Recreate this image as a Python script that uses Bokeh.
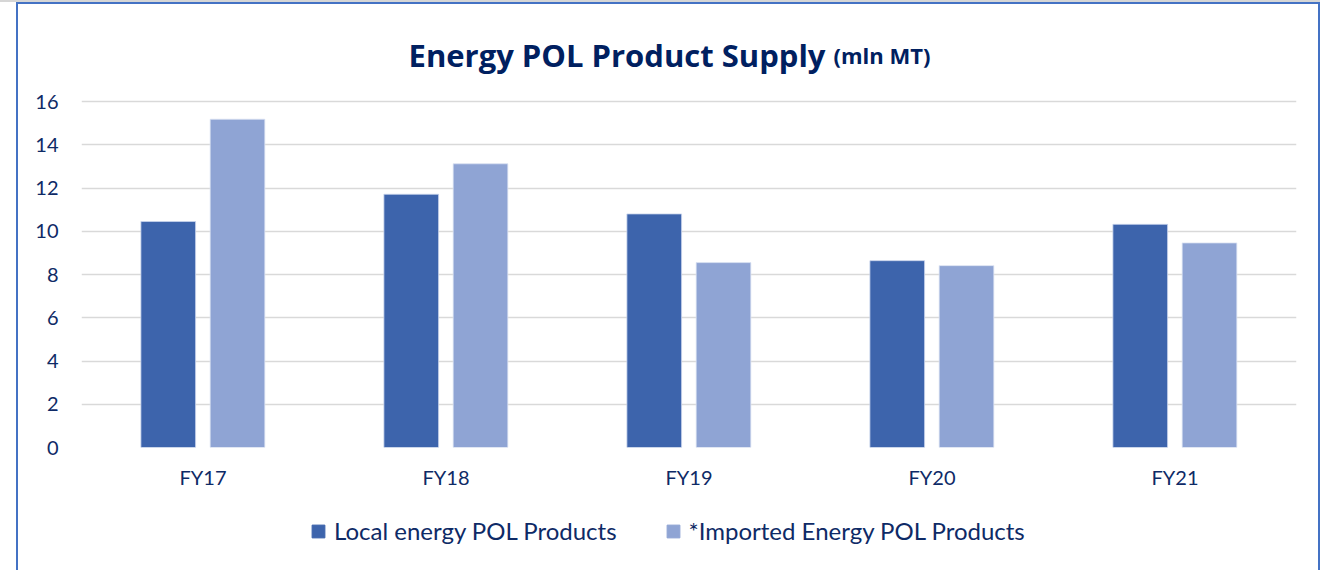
from bokeh.plotting import figure
from bokeh.layouts import column
from bokeh.models import (FactorRange, Range1d, Legend, LegendItem,
                          ColumnDataSource, FixedTicker, InlineStyleSheet)
from bokeh.core.properties import value
from bokeh.transform import dodge
from bokeh.embed import file_html
from bokeh.resources import INLINE

# ---- data ----
categories = ["FY17", "FY18", "FY19", "FY20", "FY21"]
local_vals = [10.45, 11.71, 10.80, 8.64, 10.32]
imported_vals = [15.18, 13.12, 8.55, 8.41, 9.46]
series_names = ["Local energy POL Products", "*Imported Energy POL Products"]
y_ticks = [0, 2, 4, 6, 8, 10, 12, 14, 16]
title_main = "Energy POL Product Supply"
title_unit = "(mln MT)"

# ---- style ----
FONT = "Lato"
TITLE_FONT = "Open Sans"
NAVY = "#0E2A66"
TITLE_NAVY = "#002060"
C_LOCAL = "#3D64AC"
C_IMP = "#8FA4D4"
EDGE_LOCAL = "#C9D4EC"
EDGE_IMP = "#DCE3F3"

src = ColumnDataSource(dict(cat=categories, local=local_vals, imported=imported_vals))

W = 1320
FRAME_LEFT_PX = 81
FRAME_BOTTOM_PX = 447                      # page pixel of the zero line
PX_PER_UNIT = (447 - 101) / 16.0           # 16 sits at 101px
y_top = FRAME_BOTTOM_PX / PX_PER_UNIT      # frame reaches the top of the page
MAIN_H = 492

p = figure(x_range=FactorRange(*categories), y_range=Range1d(0, y_top),
           width=W, height=MAIN_H,
           output_backend="svg", toolbar_location=None,
           min_border_left=FRAME_LEFT_PX, min_border_right=W - 1296, min_border_top=0,
           min_border_bottom=MAIN_H - FRAME_BOTTOM_PX)
p.outline_line_color = None
p.background_fill_color = "white"
p.border_fill_color = "white"

r1 = p.vbar(x=dodge("cat", -0.143, range=p.x_range), top="local", width=0.225,
            source=src, fill_color=C_LOCAL, line_color=EDGE_LOCAL, line_width=0.8)
r2 = p.vbar(x=dodge("cat", 0.142, range=p.x_range), top="imported", width=0.225,
            source=src, fill_color=C_IMP, line_color=EDGE_IMP, line_width=0.8)

# grid
p.xgrid.grid_line_color = None
p.ygrid.grid_line_color = "#D9D9D9"
p.ygrid.grid_line_width = 1.3
p.yaxis.ticker = FixedTicker(ticks=y_ticks)

# axes
for ax in (p.xaxis[0], p.yaxis[0]):
    ax.axis_line_color = None
    ax.major_tick_line_color = None
    ax.minor_tick_line_color = None
    ax.major_tick_out = 0
    ax.major_tick_in = 0
    ax.minor_tick_out = 0
    ax.major_label_text_font = FONT
    ax.major_label_text_color = NAVY
    ax.major_label_text_font_size = "20px"
p.yaxis.major_label_standoff = 23
p.xaxis.major_label_standoff = 17

# title (two parts), drawn above the 16 gridline inside the frame
title_y = (FRAME_BOTTOM_PX - 54) / PX_PER_UNIT
p.text(x=[(825 - 81) / 243.0], y=[title_y], text=[title_main],
       text_font=value(TITLE_FONT), text_font_style="bold", text_font_size="31px",
       text_color=TITLE_NAVY, text_align="right", text_baseline="alphabetic")
p.text(x=[(833 - 81) / 243.0], y=[title_y], text=[title_unit],
       text_font=value(TITLE_FONT), text_font_style="bold", text_font_size="22px",
       text_color=TITLE_NAVY, text_align="left", text_baseline="alphabetic")

# legend strip below the chart (proxy renderers carry only the legend styling)
LEG_H = 570 - MAIN_H
q = figure(width=W, height=LEG_H, x_range=Range1d(0, 1), y_range=Range1d(0, 1),
           output_backend="svg", toolbar_location=None,
           min_border_left=0, min_border_right=0, min_border_top=0, min_border_bottom=0)
q.axis.visible = False
q.grid.grid_line_color = None
q.outline_line_color = None
q.background_fill_color = "white"
q.border_fill_color = "white"
nan = float("nan")
k1 = q.vbar(x=[nan], top=[nan], width=0.1, fill_color=C_LOCAL, line_color=C_LOCAL)
k2 = q.vbar(x=[nan], top=[nan], width=0.1, fill_color=C_IMP, line_color=C_IMP)
legend = Legend(items=[LegendItem(label=series_names[0], renderers=[k1]),
                       LegendItem(label=series_names[1], renderers=[k2])],
                orientation="horizontal", location=(312 - FRAME_LEFT_PX - 2, 25),
                glyph_width=16, glyph_height=16, label_standoff=8, spacing=48,
                label_text_font=FONT, label_text_font_size="24px",
                label_text_color=NAVY, border_line_color=None,
                background_fill_alpha=0, padding=4, margin=0)
q.add_layout(legend)

layout = column(p, q, spacing=0)

# outer border of the chart box
layout.stylesheets = [InlineStyleSheet(css="""
:host::before { content: ""; position: absolute; left: 0; top: 0; width: 1320px;
  height: 2px; background: #D6D6D6; pointer-events: none; z-index: 5; }
:host::after { content: ""; position: absolute; left: 16px; top: 2px; width: 1300px;
  height: 566px; border: 2px solid #4472C4; border-bottom: none;
  pointer-events: none; z-index: 5; }
""")]

open("out.html", "w").write(file_html(layout, INLINE))
